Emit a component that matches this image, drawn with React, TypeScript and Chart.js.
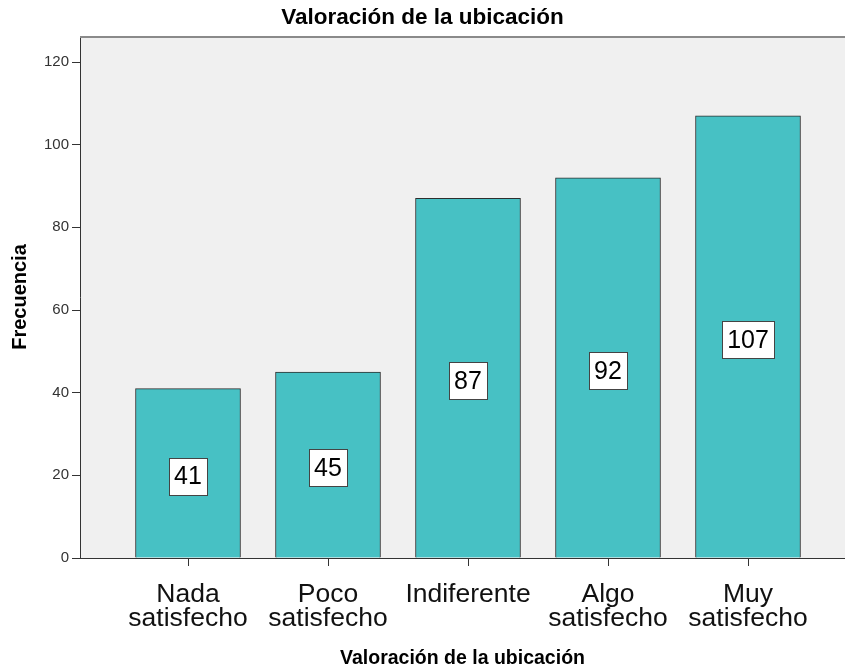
import React, { useEffect, useRef } from "react";
import { Chart, registerables } from "chart.js";

Chart.register(...registerables);

const chartTitle = "Valoración de la ubicación";
const xAxisTitle = "Valoración de la ubicación";
const yAxisTitle = "Frecuencia";
const categories: string[][] = [
  ["Nada", "satisfecho"],
  ["Poco", "satisfecho"],
  ["Indiferente"],
  ["Algo", "satisfecho"],
  ["Muy", "satisfecho"],
];
const positions = [1, 2, 3, 4, 5];
const frequencies = [41, 45, 87, 92, 107];
const yTicks = [0, 20, 40, 60, 80, 100, 120];

const FONT = "'Liberation Sans', Arial, sans-serif";

const plotBgPlugin = {
  id: "plotBg",
  beforeDraw(chart: any) {
    const { ctx, chartArea } = chart;
    ctx.save();
    ctx.fillStyle = "#F0F0F0";
    ctx.fillRect(chartArea.left, chartArea.top, chartArea.right - chartArea.left, chartArea.bottom - chartArea.top);
    ctx.restore();
  },
  afterDraw(chart: any) {
    const { ctx, chartArea } = chart;
    ctx.save();
    ctx.strokeStyle = "#8a8a8a";
    ctx.lineWidth = 2;
    ctx.beginPath();
    ctx.moveTo(chartArea.left, chartArea.top + 1);
    ctx.lineTo(chartArea.right, chartArea.top + 1);
    ctx.stroke();
    ctx.restore();
  },
};

const valueLabelPlugin = {
  id: "valueLabels",
  afterDatasetsDraw(chart: any) {
    const { ctx } = chart;
    const meta = chart.getDatasetMeta(0);
    ctx.save();
    ctx.font = `25px ${FONT}`;
    ctx.textAlign = "center";
    ctx.textBaseline = "middle";
    meta.data.forEach((bar: any, i: number) => {
      const text = String(frequencies[i]);
      const cx = bar.x;
      const cy = (bar.y + bar.base) / 2 + 3;
      const w = ctx.measureText(text).width + 10;
      const h = 37;
      const x0 = Math.round(cx - w / 2) + 0.5;
      const y0 = Math.round(cy - h / 2) + 0.5;
      ctx.fillStyle = "#FFFFFF";
      ctx.fillRect(x0, y0, Math.round(w), h);
      ctx.strokeStyle = "#444444";
      ctx.lineWidth = 1;
      ctx.strokeRect(x0, y0, Math.round(w), h);
      ctx.fillStyle = "#000000";
      ctx.fillText(text, cx, cy + 1);
    });
    ctx.restore();
  },
};

export default function App() {
  const canvasRef = useRef<HTMLCanvasElement | null>(null);

  useEffect(() => {
    const canvas = canvasRef.current;
    if (!canvas) return;
    const chart = new Chart(canvas, {
      type: "bar",
      data: {
        datasets: [
          {
            label: "Frecuencia",
            data: positions.map((p, i) => ({ x: p, y: frequencies[i] })),
            backgroundColor: "#47C1C4",
            borderColor: "#2E2E2E",
            borderWidth: 1,
            barThickness: 105,
          },
        ],
      },
      options: {
        animation: false,
        responsive: false,
        maintainAspectRatio: false,
        layout: { padding: { left: 0, right: 0, top: 0, bottom: 0 } },
        plugins: {
          legend: { display: false },
          tooltip: { enabled: false },
          title: {
            display: true,
            text: chartTitle,
            color: "#000000",
            font: { family: FONT, size: 22.5, weight: "bold", lineHeight: 1.2 },
            padding: { top: 4, bottom: 5 },
          },
        },
        scales: {
          x: {
            type: "linear",
            offset: false,
            min: 1 - 108 / 140,
            max: 1 + 657 / 140,
            afterBuildTicks(scale: any) {
              scale.ticks = positions.map((v) => ({ value: v }));
            },
            afterFit(scale: any) {
              scale.height = 113;
            },
            ticks: {
              autoSkip: false,
              maxRotation: 0,
              minRotation: 0,
              padding: 16,
              color: "#111111",
              font: { family: FONT, size: 26.5, lineHeight: 0.92 },
              callback: (value: any) => {
                const idx = positions.indexOf(Number(value));
                return idx >= 0 ? categories[idx] : "";
              },
            },
            grid: {
              offset: false,
              drawOnChartArea: false,
              drawTicks: true,
              tickLength: 8,
              color: "#333333",
            },
            border: { display: true, color: "#333333", width: 1 },
            title: {
              display: true,
              text: xAxisTitle,
              color: "#000000",
              font: { family: FONT, size: 19.5, weight: "bold", lineHeight: 1.2 },
              padding: { top: 0, bottom: 1 },
            },
          },
          y: {
            type: "linear",
            min: 0,
            max: 126.3,
            afterBuildTicks(scale: any) {
              scale.ticks = yTicks.map((v) => ({ value: v }));
            },
            afterFit(scale: any) {
              scale.width = 80;
            },
            ticks: {
              padding: 3,
              color: "#333333",
              font: { family: FONT, size: 15 },
            },
            grid: {
              drawOnChartArea: false,
              drawTicks: true,
              tickLength: 8,
              color: "#333333",
            },
            border: { display: true, color: "#333333", width: 1 },
            title: {
              display: true,
              text: yAxisTitle,
              color: "#000000",
              font: { family: FONT, size: 20, weight: "bold", lineHeight: 1.2 },
              padding: { top: 8, bottom: 0 },
            },
          },
        },
      },
      plugins: [plotBgPlugin, valueLabelPlugin],
    } as any);
    return () => chart.destroy();
  }, []);

  return (
    <div style={{ position: "absolute", left: 0, top: 0, width: 845, height: 671, background: "#FFFFFF", overflow: "hidden" }}>
      <canvas ref={canvasRef} width={845} height={671} style={{ display: "block", width: 845, height: 671 }} />
    </div>
  );
}
